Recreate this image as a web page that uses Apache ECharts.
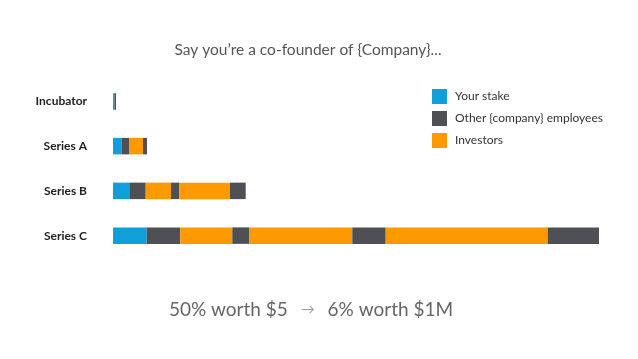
<!DOCTYPE html>
<html><head><meta charset="utf-8">
<script src="https://cdn.jsdelivr.net/npm/echarts@6/dist/echarts.min.js"></script>
<style>html,body{margin:0;padding:0;background:#fff}#c{width:638px;height:359px}</style>
</head><body><div id="c"></div>
<script>
const categories = ['Incubator', 'Series A', 'Series B', 'Series C'];
const segmentNames = ['Your stake', 'Other {company} employees', 'Investors', 'Other {company} employees', 'Investors', 'Other {company} employees', 'Investors', 'Other {company} employees'];
const seg1 = [1.5, 8.5, 17, 33.7];
const seg2 = [1.5, 8, 15.7, 33.6];
const seg3 = [0, 13.5, 25.3, 52];
const seg4 = [0, 4, 8.3, 16.7];
const seg5 = [0, 0, 50.7, 103.3];
const seg6 = [0, 0, 15.7, 33.4];
const seg7 = [0, 0, 0, 162];
const seg8 = [0, 0, 0, 51.3];
const segments = [seg1, seg2, seg3, seg4, seg5, seg6, seg7, seg8];
const legendNames = ['Your stake', 'Other {company} employees', 'Investors'];
const colorMap = {'Your stake': '#119fd9', 'Other {company} employees': '#4e5055', 'Investors': '#fe9a00'};

const chart = echarts.init(document.getElementById('c'));
chart.setOption({
  animation: false,
  textStyle: {fontFamily: 'Lato'},
  title: [{
    text: 'Say you\u2019re a co-founder of {Company}...',
    left: 303, top: 37, textAlign: 'center',
    textStyle: {fontSize: 15.5, fontWeight: 'normal', color: '#555', fontFamily: 'Lato'}
  }, {
    text: '50% worth $5 {a|\u2192} 6% worth $1M',
    left: 306, top: 295, textAlign: 'center',
    textStyle: {fontSize: 19, fontWeight: 'normal', color: '#666', fontFamily: 'Lato',
      rich: {a: {fontSize: 14, color: '#999', padding: [0, 8, 0, 8], fontFamily: 'Lato'}}}
  }],
  legend: {
    data: legendNames, orient: 'vertical', left: 427, top: 84,
    itemWidth: 15, itemHeight: 15, itemGap: 7, icon: 'rect',
    textStyle: {fontSize: 12, color: '#333', fontFamily: 'Lato', padding: [0, 0, 0, 3]}
  },
  grid: {left: 113, top: 79, width: 490, height: 179},
  xAxis: {type: 'value', min: 0, max: 490, show: false},
  yAxis: {
    type: 'category', data: categories, inverse: true,
    axisLine: {show: false}, axisTick: {show: false},
    axisLabel: {fontSize: 12, fontWeight: 'bold', color: '#222', margin: 26, fontFamily: 'Lato'}
  },
  series: segments.map((d, i) => ({
    type: 'bar', stack: 'total', name: segmentNames[i], data: d,
    barWidth: 16.5, itemStyle: {color: colorMap[segmentNames[i]]}
  }))
});
</script></body></html>
